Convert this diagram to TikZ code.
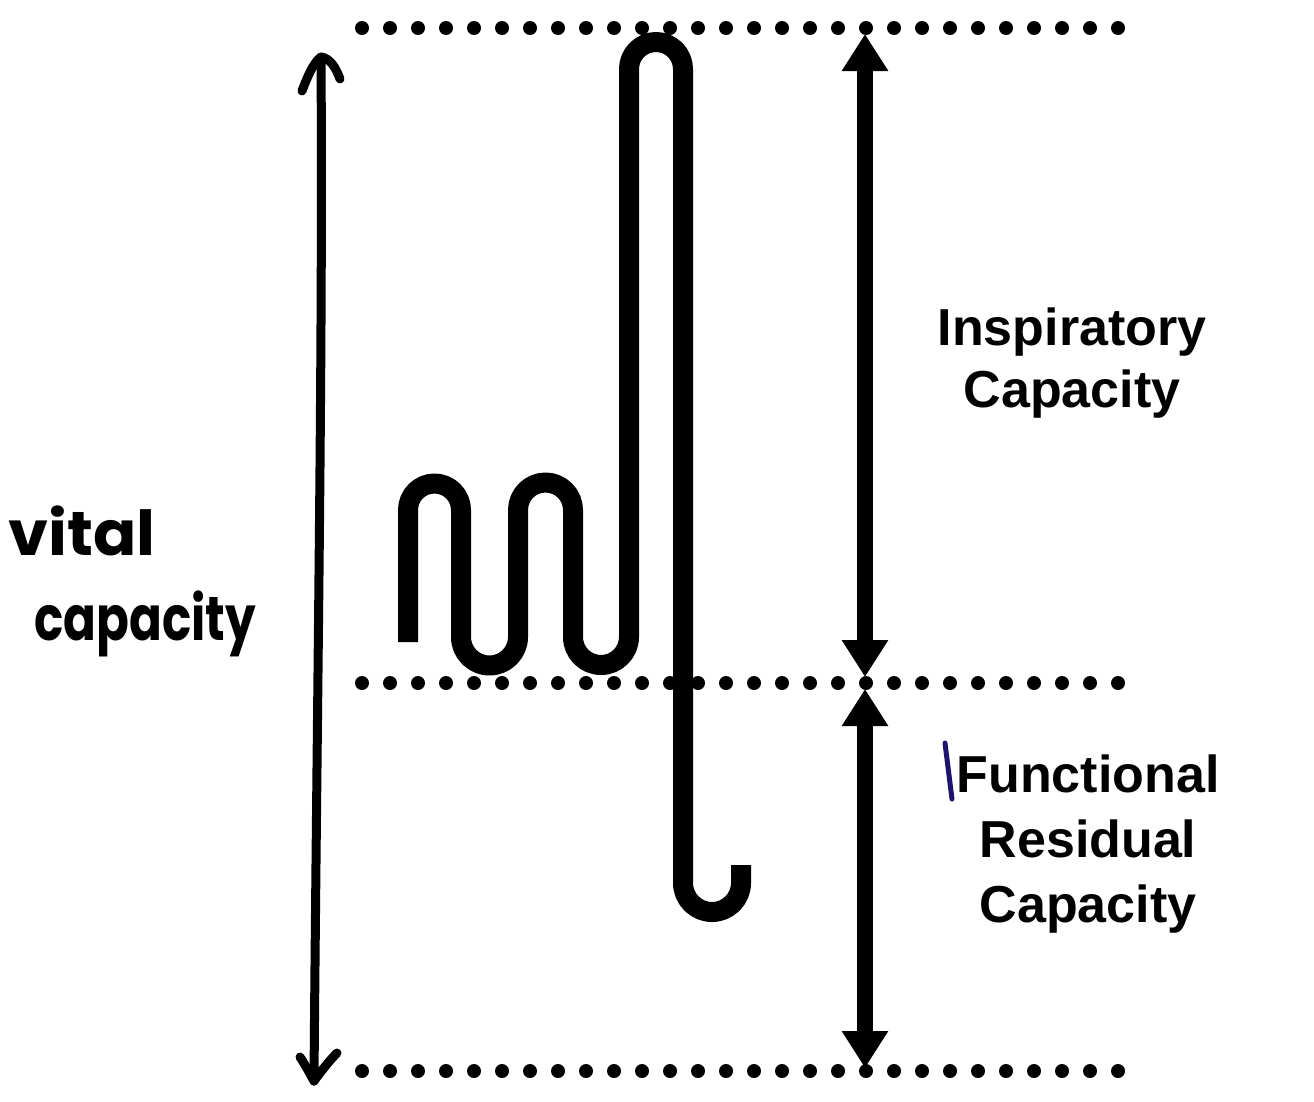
\documentclass[tikz,border=0pt]{standalone}
\usepackage{fontspec}
\setmainfont{Liberation Sans}
\newfontfamily\handfont{Poppins}
\usetikzlibrary{arrows.meta}
\definecolor{penblue}{RGB}{30,20,110}
\tikzset{
  dotrow/.style={fill=black},
  bigarrow/.style={line width=16pt, {Triangle[width=44pt,length=37pt]}-{Triangle[width=44pt,length=37pt]}},
  wave/.style={line width=20pt, line cap=butt, line join=round},
  hand/.style={line width=9pt, line cap=round, line join=round},
  label/.style={font=\bfseries\fontsize{52}{60}\selectfont, anchor=base, inner sep=0pt},
  handlabel/.style={font=\handfont\bfseries\fontsize{62}{70}\selectfont, anchor=base, inner sep=0pt}
}
\begin{document}
\begin{tikzpicture}[x=1pt,y=-1pt]
\useasboundingbox (0,0) rectangle (1314,1101);
% dotted lines
\foreach \yy in {28,683,1071}{
  \foreach \k in {0,...,27}{
    \fill[dotrow] ({362+28*\k},\yy) circle[radius=7];
  }
}
% arrow end points
\coordinate (ictop) at (865,34);
\coordinate (icbot) at (865,677);
\coordinate (frctop) at (865,689);
\coordinate (frcbot) at (865,1068);
\draw[bigarrow] (ictop) -- (icbot);
\draw[bigarrow] (frctop) -- (frcbot);
% spirogram
\draw[wave] (408,642) -- (408,510) arc[start angle=180,end angle=360,radius=26.5]
  -- (461,637) arc[start angle=180,end angle=0,radius=28.5]
  -- (518,510) arc[start angle=180,end angle=360,radius=27.5]
  -- (573,637) arc[start angle=180,end angle=0,radius=28]
  -- (629,69) arc[start angle=180,end angle=360,radius=27]
  -- (683,883) arc[start angle=180,end angle=0,radius=29]
  -- (741,865);
% hand-drawn vital capacity arrow
\coordinate (vctop) at (321,57);
\coordinate (vcbot) at (314,1081);
\draw[hand] (vcbot) .. controls (317,700) and (323,350) .. (vctop);
\draw[hand] (302,91) .. controls (308,75) and (314,62) .. (vctop) .. controls (330,58) and (336,68) .. (340,79);
\draw[hand] (300,1057) .. controls (306,1066) and (310,1074) .. (vcbot) .. controls (322,1070) and (330,1060) .. (337,1053);
\node[handlabel, xscale=1.03] (vital) at (82,555) {vital};
\node[handlabel, xscale=0.78] (capacity) at (145,640) {capacity};
% labels
\node[label] (insp) at (1072,345) {Inspiratory};
\node[label] (cap1) at (1072,407) {Capacity};
\node[label] (func) at (1088,792) {Functional};
\node[label] (resid) at (1088,857) {Residual};
\node[label] (cap2) at (1088,922) {Capacity};
\draw[penblue, line width=5pt, line cap=round] (945,743) -- (952,799);
\end{tikzpicture}
\end{document}
